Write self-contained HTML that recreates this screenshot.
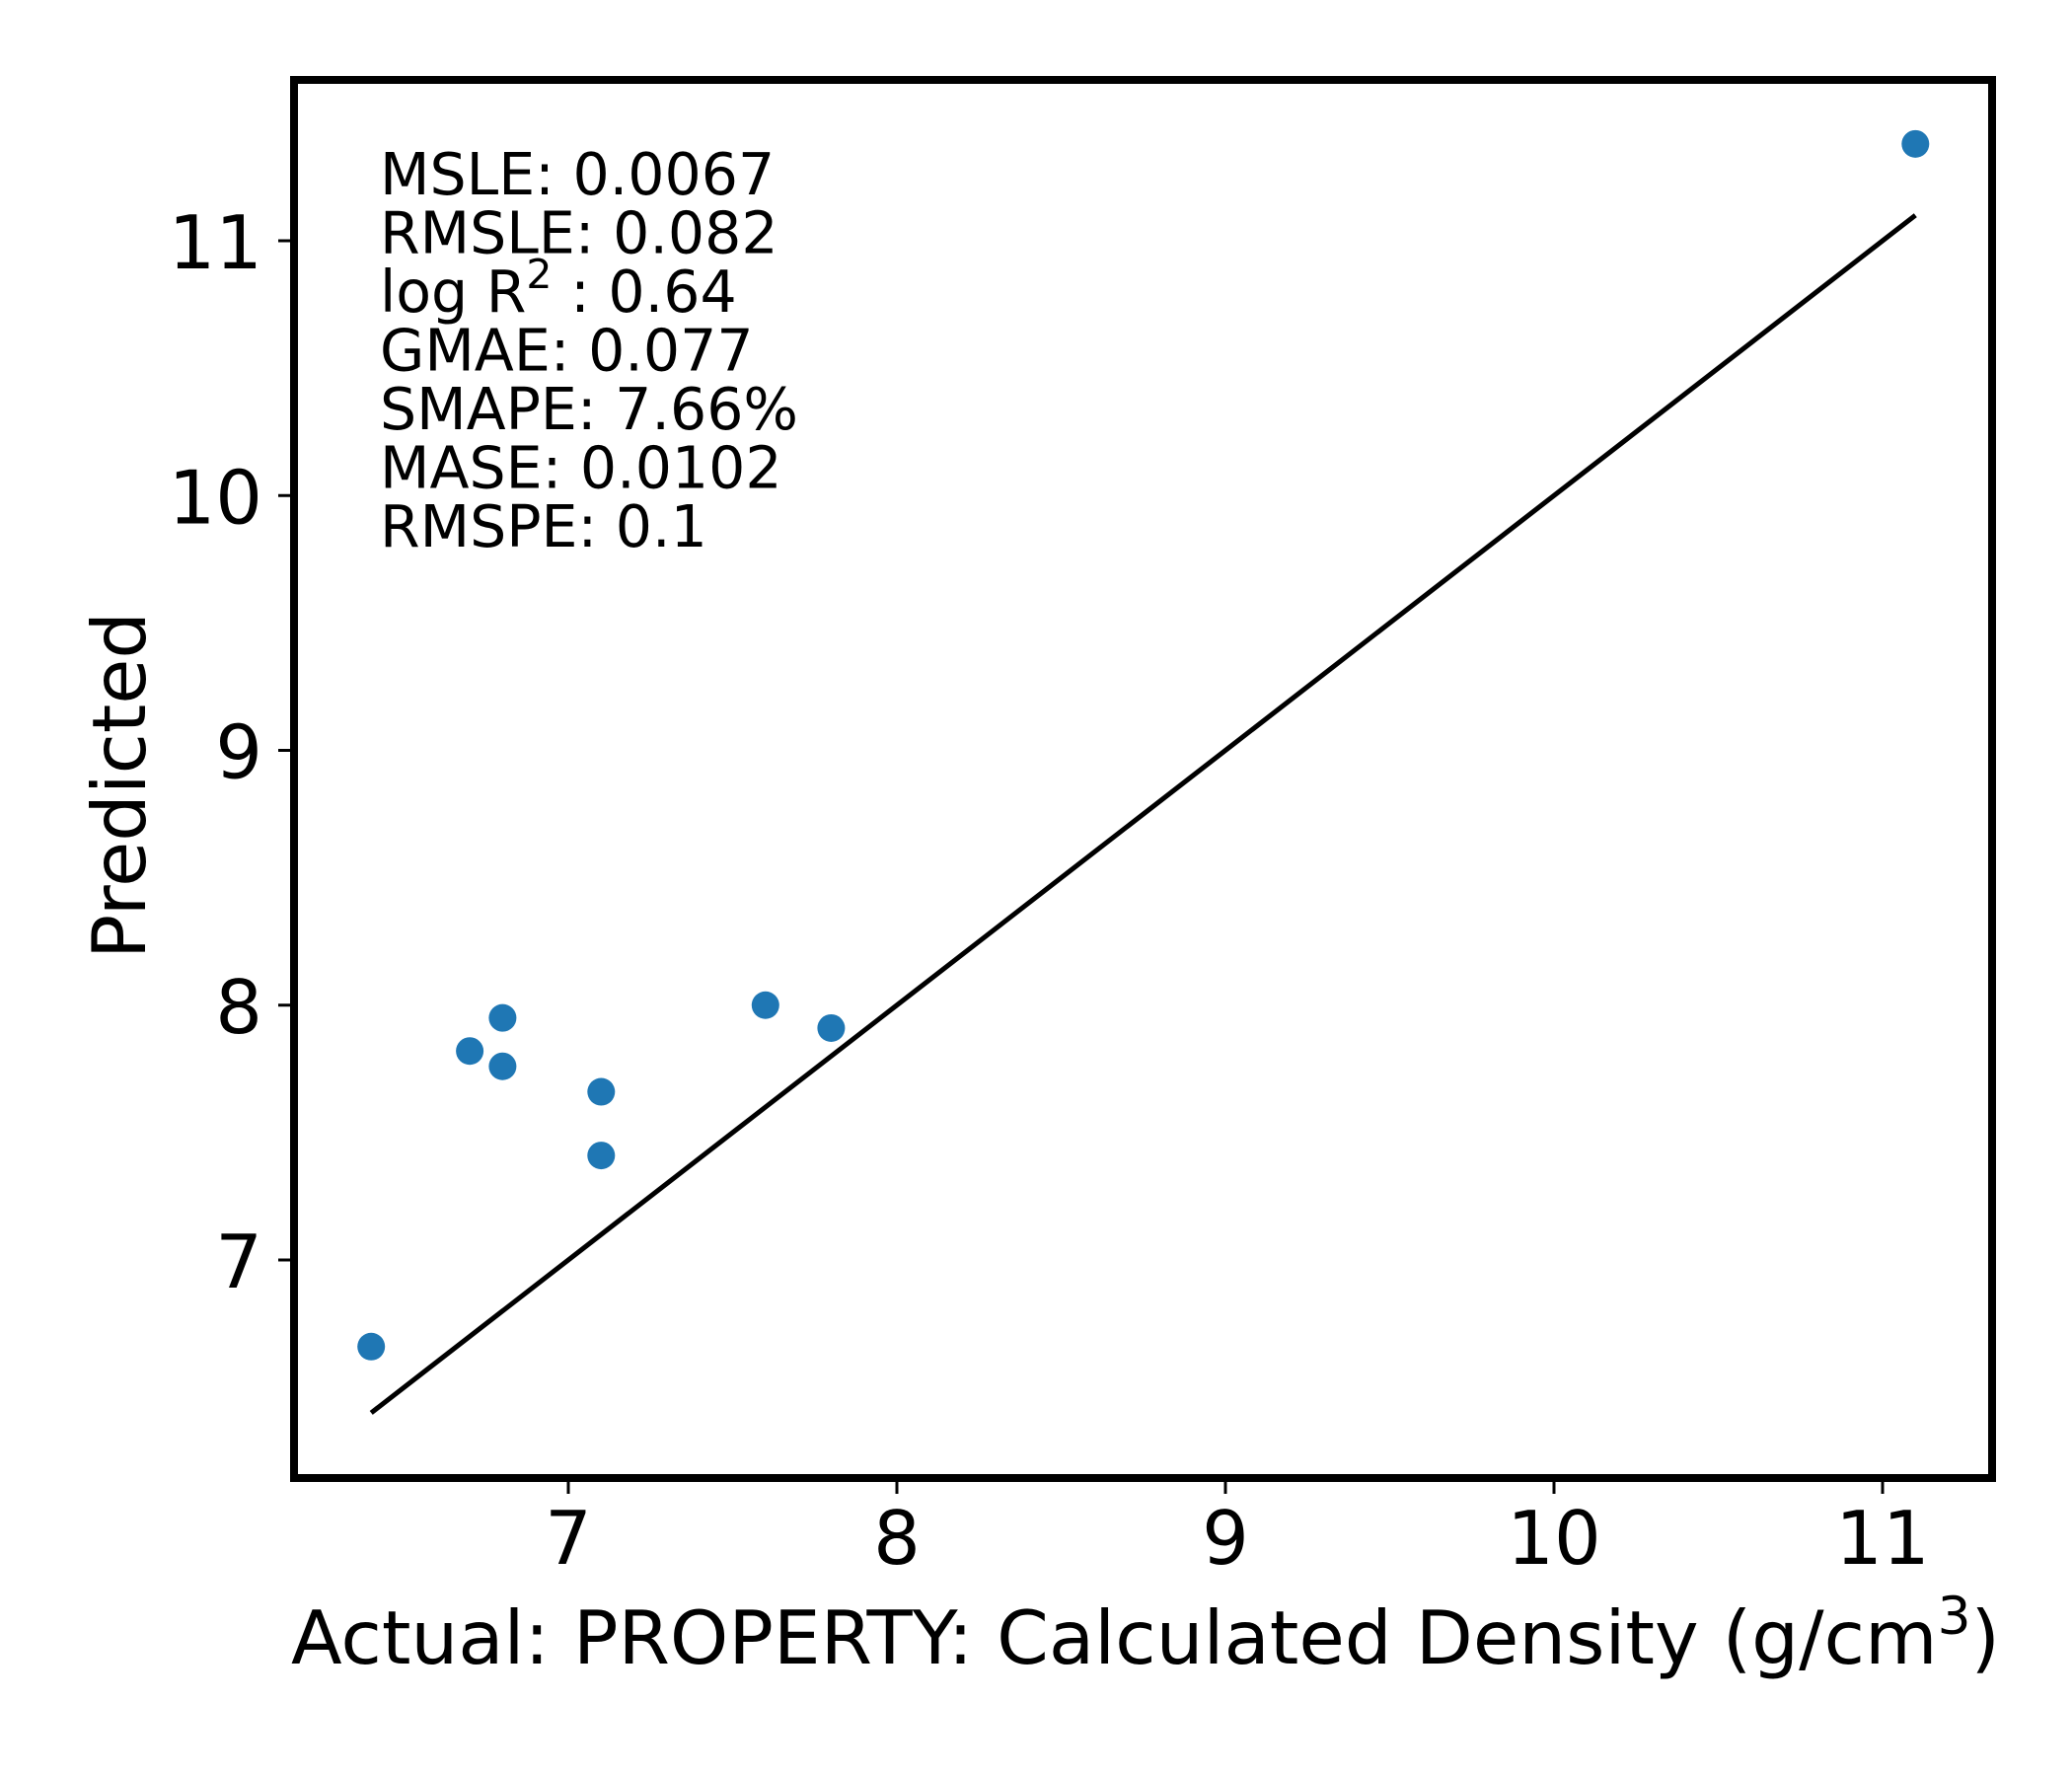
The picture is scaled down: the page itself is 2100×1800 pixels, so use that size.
<!DOCTYPE html>
<html><head><meta charset="utf-8">
<style>
html,body{margin:0;padding:0;background:#fff;}
svg{display:block;font-family:"DejaVu Sans","Liberation Sans",sans-serif;}
</style></head>
<body>
<svg id="chart" width="2100" height="1800" viewBox="0 0 2100 1800" xmlns="http://www.w3.org/2000/svg">
<rect x="0" y="0" width="2100" height="1800" fill="#fff"/>
<g id="marks"></g>
<g id="axes"></g>
<g font-size="58.5" fill="#000">
<text x="385" y="197">MSLE: 0.0067</text>
<text x="385" y="256.5">RMSLE: 0.082</text>
<text x="385" y="316">log R<tspan font-size="41" dy="-24">2</tspan><tspan dy="24"> : 0.64</tspan></text>
<text x="385" y="375.5">GMAE: 0.077</text>
<text x="385" y="435">SMAPE: 7.66%</text>
<text x="385" y="494.5">MASE: 0.0102</text>
<text x="385" y="554">RMSPE: 0.1</text>
</g>
<text x="295" y="1686" font-size="75" textLength="1732" lengthAdjust="spacingAndGlyphs">Actual: PROPERTY: Calculated Density (g/cm<tspan font-size="53" dy="-30">3</tspan><tspan dy="30">)</tspan></text>
<text x="0" y="0" font-size="75" text-anchor="middle" transform="translate(147,796) rotate(-90)">Predicted</text>
</svg>
<script>
const actual = [6.4, 6.7, 6.8, 6.8, 7.1, 7.1, 7.6, 7.8, 11.1];
const predicted = [6.66, 7.82, 7.95, 7.76, 7.66, 7.41, 8.0, 7.91, 11.38];
const xTicks = [7, 8, 9, 10, 11];
const yTicks = [7, 8, 9, 10, 11];
const identityRange = [6.4, 11.1];

const L = 298, R = 2019, T = 81, B = 1498;
function xs(v){ return 576 + (v - 7) * 333; }
function ys(v){ return 1277 - (v - 7) * 258.25; }
const NS = 'http://www.w3.org/2000/svg';
function mk(tag, attrs, parent){
  const e = document.createElementNS(NS, tag);
  for (const k in attrs) e.setAttribute(k, attrs[k]);
  parent.appendChild(e);
  return e;
}
const marks = document.getElementById('marks');
const axes = document.getElementById('axes');

const line = mk('line', {x1: xs(identityRange[0]), y1: ys(identityRange[0]), x2: xs(identityRange[1]), y2: ys(identityRange[1]), stroke: '#000', 'stroke-width': 5}, marks);



actual.forEach((a, i) => {
  const c = mk('circle', {cx: xs(a), cy: ys(predicted[i]), r: 14, fill: '#1f77b4'}, marks);
  
  
});

const frame = mk('rect', {x: L, y: T, width: R - L, height: B - T, fill: 'none', stroke: '#000', 'stroke-width': 8}, axes);



xTicks.forEach(t => {
  const x = xs(t);
  const tk = mk('line', {x1: x, y1: B + 4, x2: x, y2: B + 16, stroke: '#000', 'stroke-width': 3}, axes);
  
  
  const lb = mk('text', {x: x, y: 1585, 'font-size': 75, 'text-anchor': 'middle'}, axes);
  lb.textContent = t;
  
  
});
yTicks.forEach(t => {
  const y = ys(t);
  const tk = mk('line', {x1: L - 16, y1: y, x2: L - 4, y2: y, stroke: '#000', 'stroke-width': 3}, axes);
  
  
  const lb = mk('text', {x: 266, y: y + 28, 'font-size': 75, 'text-anchor': 'end'}, axes);
  lb.textContent = t;
  
  
});
</script>
</body></html>
